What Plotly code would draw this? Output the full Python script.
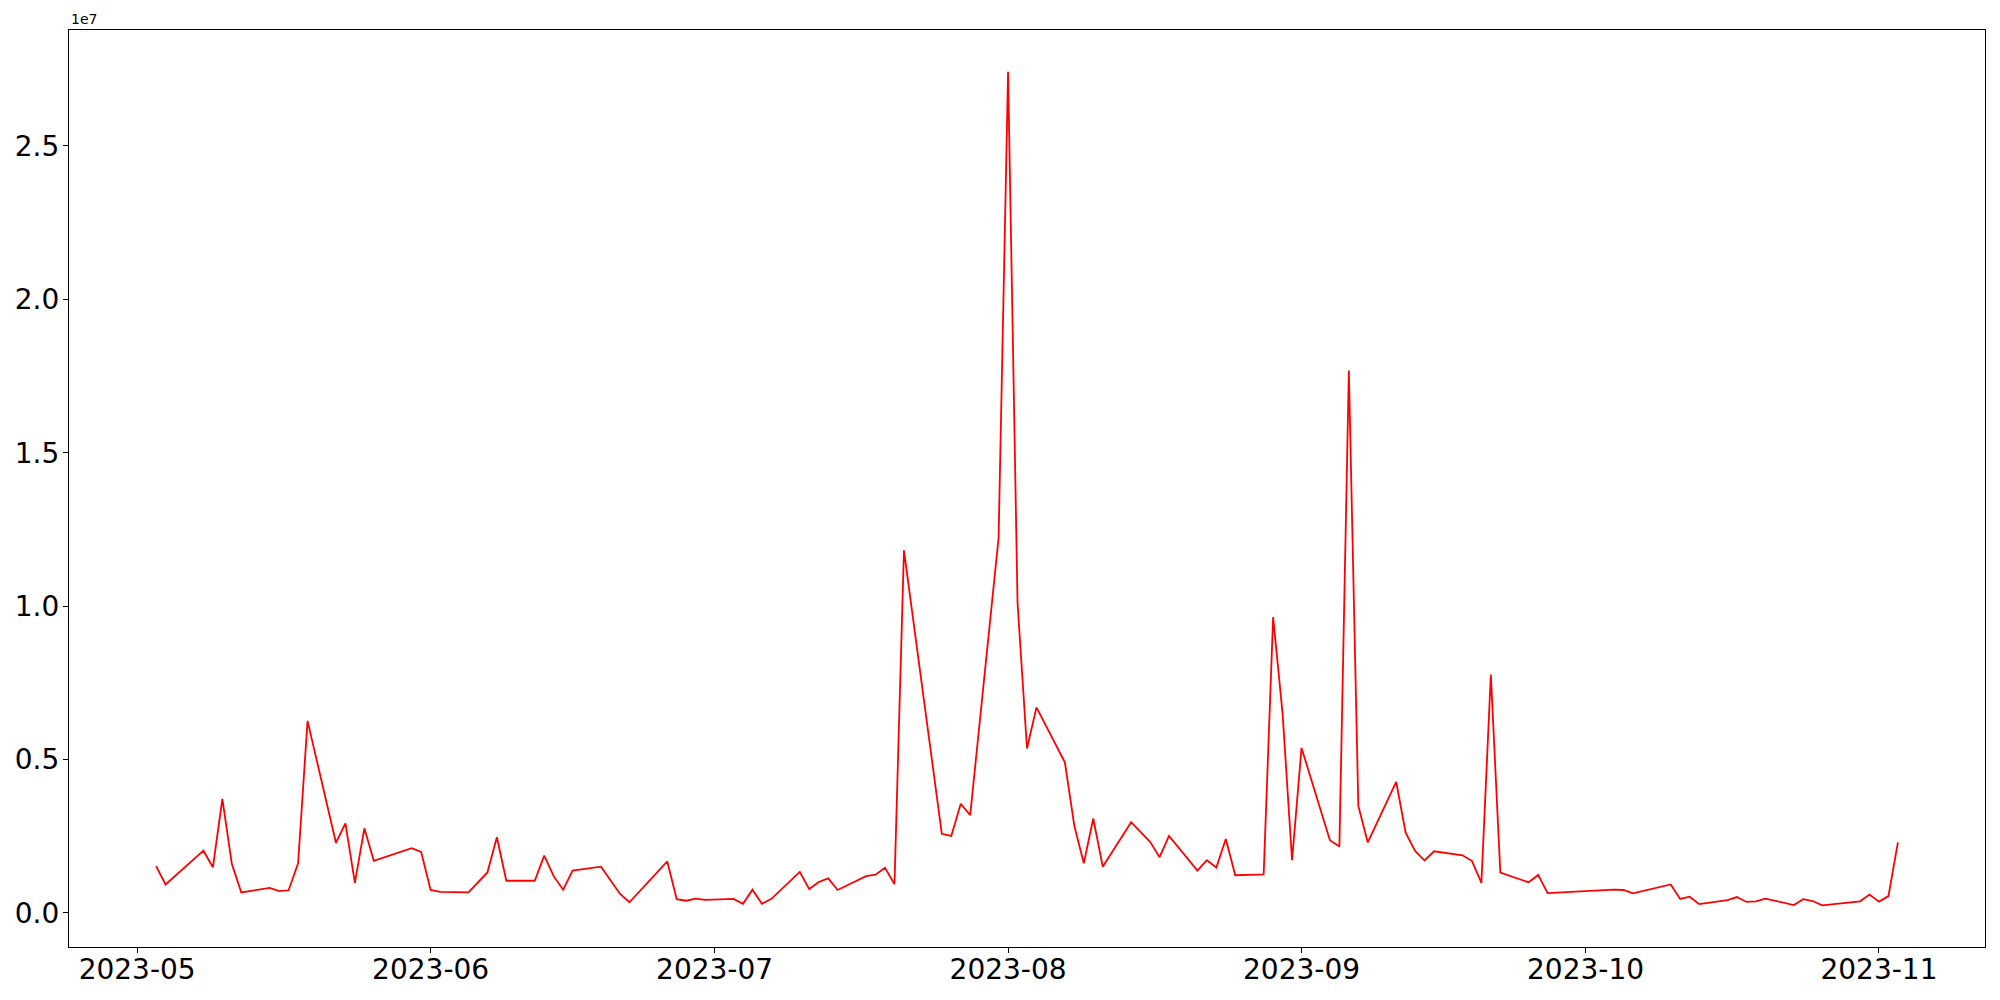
import pandas as pd
import plotly.graph_objects as go

dates = ['2023-05-03', '2023-05-04', '2023-05-08', '2023-05-09', '2023-05-10', '2023-05-11', '2023-05-12',
         '2023-05-15', '2023-05-16', '2023-05-17', '2023-05-18', '2023-05-19', '2023-05-22', '2023-05-23',
         '2023-05-24', '2023-05-25', '2023-05-26', '2023-05-30', '2023-05-31', '2023-06-01', '2023-06-02',
         '2023-06-05', '2023-06-07', '2023-06-08', '2023-06-09', '2023-06-12', '2023-06-13', '2023-06-14',
         '2023-06-15', '2023-06-16', '2023-06-19', '2023-06-21', '2023-06-22', '2023-06-26', '2023-06-27',
         '2023-06-28', '2023-06-29', '2023-06-30', '2023-07-03', '2023-07-04', '2023-07-05', '2023-07-06',
         '2023-07-07', '2023-07-10', '2023-07-11', '2023-07-12', '2023-07-13', '2023-07-14', '2023-07-17',
         '2023-07-18', '2023-07-19', '2023-07-20', '2023-07-21', '2023-07-25', '2023-07-26', '2023-07-27',
         '2023-07-28', '2023-07-31', '2023-08-01', '2023-08-02', '2023-08-03', '2023-08-04', '2023-08-07',
         '2023-08-08', '2023-08-09', '2023-08-10', '2023-08-11', '2023-08-14', '2023-08-16', '2023-08-17',
         '2023-08-18', '2023-08-21', '2023-08-22', '2023-08-23', '2023-08-24', '2023-08-25', '2023-08-28',
         '2023-08-29', '2023-08-30', '2023-08-31', '2023-09-01', '2023-09-04', '2023-09-05', '2023-09-06',
         '2023-09-07', '2023-09-08', '2023-09-11', '2023-09-12', '2023-09-13', '2023-09-14', '2023-09-15',
         '2023-09-18', '2023-09-19', '2023-09-20', '2023-09-21', '2023-09-22', '2023-09-25', '2023-09-26',
         '2023-09-27', '2023-10-04', '2023-10-05', '2023-10-06', '2023-10-10', '2023-10-11', '2023-10-12',
         '2023-10-13', '2023-10-16', '2023-10-17', '2023-10-18', '2023-10-19', '2023-10-20', '2023-10-23',
         '2023-10-24', '2023-10-25', '2023-10-26', '2023-10-30', '2023-10-31', '2023-11-01', '2023-11-02',
         '2023-11-03']

# values in millions
values_m = [1.53, 0.93, 2.03, 1.49, 3.72, 1.60, 0.67,
            0.82, 0.71, 0.74, 1.62, 6.26, 2.29, 2.92,
            0.98, 2.76, 1.70, 2.11, 1.99, 0.75, 0.69,
            0.67, 1.32, 2.47, 1.05, 1.05, 1.87, 1.20,
            0.76, 1.38, 1.51, 0.63, 0.35, 1.68, 0.45,
            0.40, 0.47, 0.43, 0.46, 0.30, 0.76, 0.30,
            0.46, 1.34, 0.78, 1.01, 1.13, 0.75, 1.20,
            1.25, 1.47, 0.94, 11.82, 2.58, 2.51, 3.56,
            3.19, 12.23, 27.42, 10.11, 5.36, 6.70, 4.91,
            2.84, 1.62, 3.08, 1.51, 2.96, 2.32, 1.82,
            2.51, 1.38, 1.72, 1.48, 2.41, 1.23, 1.26,
            9.64, 6.50, 1.72, 5.38, 2.37, 2.17, 17.68,
            3.49, 2.30, 4.27, 2.62, 2.02, 1.71, 2.01,
            1.88, 1.70, 0.98, 7.77, 1.32, 1.00, 1.24,
            0.65, 0.76, 0.75, 0.64, 0.93, 0.46, 0.53,
            0.29, 0.42, 0.52, 0.36, 0.38, 0.47, 0.26,
            0.45, 0.39, 0.25, 0.38, 0.60, 0.37, 0.55,
            2.30]

month_ticks = ['2023-05-01', '2023-06-01', '2023-07-01', '2023-08-01', '2023-09-01', '2023-10-01', '2023-11-01']
y_ticks = [0, 5e6, 1e7, 1.5e7, 2e7, 2.5e7]
y_tick_text = ['0.0', '0.5', '1.0', '1.5', '2.0', '2.5']

df = pd.DataFrame({'date': pd.to_datetime(dates), 'value': [v * 1e6 for v in values_m]})

# matplotlib-like 5% margins
xspan = df['date'].max() - df['date'].min()
xr = [df['date'].min() - xspan * 0.05, df['date'].max() + xspan * 0.05]
yspan = df['value'].max() - df['value'].min()
yr = [df['value'].min() - yspan * 0.05, df['value'].max() + yspan * 0.05]

fig = go.Figure()
fig.add_trace(go.Scatter(x=df['date'], y=df['value'], mode='lines',
                         line=dict(color='red', width=1.8), showlegend=False))

axis_style = dict(showline=True, mirror=True, linecolor='black', linewidth=1.2,
                  showgrid=False, zeroline=False, ticks='outside', ticklen=5,
                  tickwidth=1, tickcolor='black', automargin=False,
                  tickfont=dict(family='DejaVu Sans', size=28, color='black'))

fig.update_xaxes(range=xr, tickvals=pd.to_datetime(month_ticks), tickformat='%Y-%m',
                 ticklabelstandoff=-8, **axis_style)
fig.update_yaxes(range=yr, tickvals=y_ticks, ticktext=y_tick_text,
                 ticklabelstandoff=-2, **axis_style)

fig.add_annotation(text='1e7', xref='paper', yref='paper', x=0, y=1, xanchor='left', yanchor='bottom',
                   showarrow=False, font=dict(family='DejaVu Sans', size=14, color='black'), yshift=1)

# page body adds ~8px offset, so keep the figure inside the window
fig.update_layout(width=1984, height=984, plot_bgcolor='white', paper_bgcolor='white',
                  margin=dict(l=61, r=7, t=22, b=45))

fig.write_html("out.html")
